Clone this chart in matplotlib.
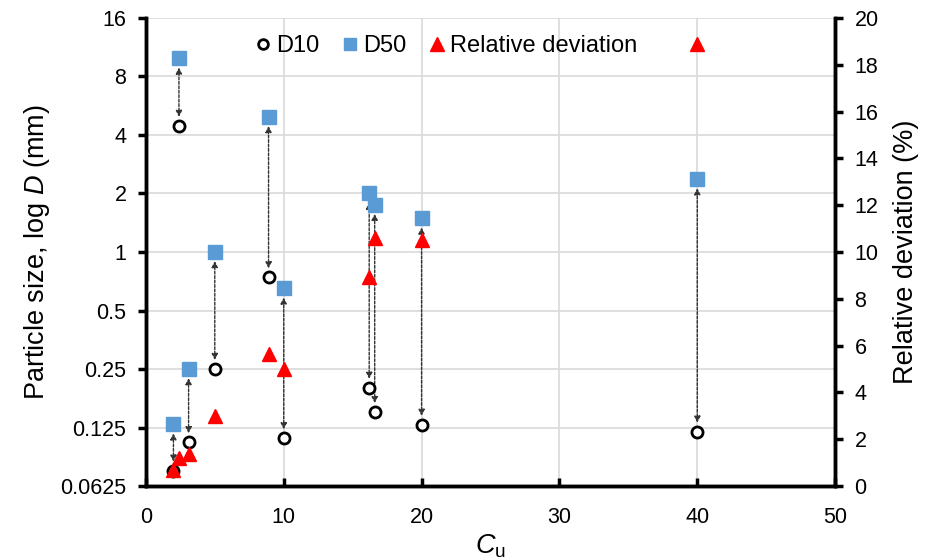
import matplotlib.pyplot as plt
from matplotlib.lines import Line2D

plt.rcParams['font.family'] = ['Liberation Sans', 'DejaVu Sans']
plt.rcParams['mathtext.fontset'] = 'custom'
plt.rcParams['mathtext.it'] = 'Liberation Sans:italic'
plt.rcParams['mathtext.rm'] = 'Liberation Sans'

# data
cu = [2.0, 2.4, 3.1, 5.0, 8.9, 10.0, 16.2, 16.6, 20.0, 40.0]
d10 = [0.075, 4.45, 0.105, 0.25, 0.74, 0.11, 0.20, 0.15, 0.129, 0.119]
d50 = [0.13, 9.9, 0.25, 1.0, 4.95, 0.65, 2.0, 1.75, 1.49, 2.37]
rel_dev = [0.7, 1.2, 1.35, 3.0, 5.65, 5.0, 8.95, 10.6, 10.5, 18.9]

y_ticks = [0.0625, 0.125, 0.25, 0.5, 1, 2, 4, 8, 16]
y_labels = ['0.0625', '0.125', '0.25', '0.5', '1', '2', '4', '8', '16']
x_ticks = [0, 10, 20, 30, 40, 50]
y2_ticks = list(range(0, 21, 2))

fig = plt.figure(figsize=(9.29, 5.6), dpi=100)
ax = fig.add_axes([0.157, 0.132, 0.742, 0.836])
ax2 = ax.twinx()

ax.set_yscale('log', base=2)
ax.set_ylim(0.0625, 16)
ax.set_xlim(0, 50)
ax.set_yticks(y_ticks)
ax.set_yticklabels(y_labels)
ax.minorticks_off()
ax.set_xticks(x_ticks)
ax.grid(True, color='#d9d9d9', lw=1.2)
ax.set_axisbelow(True)

# dashed double arrows between D10 and D50
for x, a, b in zip(cu, d10, d50):
    ax.annotate('', xy=(x, b), xytext=(x, a),
                arrowprops=dict(arrowstyle='<|-|>', color='#333333', lw=1.0,
                                linestyle=(0, (2, 1.2)), shrinkA=6.5,
                                shrinkB=6.5, mutation_scale=9))

ax.plot(cu, d10, 'o', ms=8, mfc='white', mec='black', mew=2, zorder=4)
ax.plot(cu, d50, 's', ms=9.5, color='#5b9bd5', mec='#5b9bd5', zorder=4)

ax2.plot(cu, rel_dev, '^', ms=10.5, color='red', zorder=5)
ax2.set_ylim(0, 20)
ax2.set_yticks(y2_ticks)

for a in (ax, ax2):
    a.spines['top'].set_visible(False)
    for s in ('left', 'right', 'bottom'):
        a.spines[s].set_linewidth(2.5)
ax.tick_params(axis='y', direction='out', length=6, width=2.5, labelsize=15.5, pad=8)
ax.tick_params(axis='x', direction='in', length=6, width=2.5, labelsize=15.5, pad=15)
ax2.tick_params(axis='y', direction='out', length=6, width=2.5, labelsize=15.5, pad=8)

ax.set_ylabel('Particle size, log $\\mathit{D}$ (mm)', fontsize=19.5, labelpad=6)
ax.set_xlabel('$\\mathit{C}_{\\mathrm{u}}$', fontsize=19.5, labelpad=3)
ax2.set_ylabel('Relative deviation (%)', fontsize=19.5, labelpad=10)

handles = [
    Line2D([], [], ls='', marker='o', ms=7, mfc='white', mec='black', mew=2),
    Line2D([], [], ls='', marker='s', ms=9, color='#5b9bd5'),
    Line2D([], [], ls='', marker='^', ms=10, color='red'),
]
fig.legend(handles, ['D10', 'D50', 'Relative deviation'], loc='center',
           bbox_to_anchor=(0.481, 0.918), ncol=3, frameon=False,
           fontsize=17, handlelength=0.6, handletextpad=0.25,
           columnspacing=1.0)

fig.savefig('out.png', dpi=100)
